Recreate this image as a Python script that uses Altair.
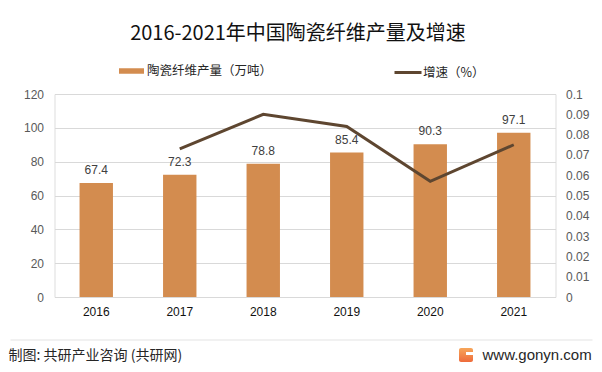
import altair as alt
import pandas as pd

years = ["2016", "2017", "2018", "2019", "2020", "2021"]
output = [67.4, 72.3, 78.8, 85.4, 90.3, 97.1]
growth_years = ["2017", "2018", "2019", "2020", "2021"]
growth = [0.073, 0.090, 0.084, 0.057, 0.075]

bar_name = "陶瓷纤维产量（万吨）"
line_name = "增速（%）"
title_text = "2016-2021年中国陶瓷纤维产量及增速"
footer_left = "制图: 共研产业咨询 (共研网)"
footer_right = "www.gonyn.com"
left_ticks = [0, 20, 40, 60, 80, 100, 120]
right_ticks = [0, 0.01, 0.02, 0.03, 0.04, 0.05, 0.06, 0.07, 0.08, 0.09, 0.1]

BAR_COLOR = "#D38C4F"
LINE_COLOR = "#5E4630"
CJK = "Noto Sans CJK SC"

bar_df = pd.DataFrame({"year": years, "value": output, "series": bar_name})
line_df = pd.DataFrame({"year": growth_years, "rate": growth, "series": line_name})
one = pd.DataFrame({"k": [0]})

left_axis = alt.Axis(values=left_ticks, ticks=False, domain=False, labelPadding=11,
                     labelFontSize=12, labelColor="#595959", labelFont="Liberation Sans",
                     labelOverlap=False, grid=True, gridColor="#D9D9D9")

x_enc = alt.X(
    "year:O",
    title=None,
    scale=alt.Scale(paddingInner=0.6, paddingOuter=0.3),
    axis=alt.Axis(labelAngle=0, ticks=False, labelPadding=9, labelFontSize=12,
                  labelColor="#111111", labelFont="Liberation Sans",
                  domainColor="#D9D9D9", grid=False),
)

bars = alt.Chart(bar_df).mark_bar(color=BAR_COLOR).encode(
    x=x_enc,
    y=alt.Y("value:Q", title=None,
            scale=alt.Scale(domain=[0, 120], nice=False), axis=left_axis),
    fill=alt.Fill("series:N", title=None,
                  scale=alt.Scale(domain=[bar_name], range=[BAR_COLOR]),
                  legend=alt.Legend(orient="none", legendX=64.5, legendY=-35.5,
                                    symbolType="M-1,-0.22H1V0.22H-1Z", symbolSize=625,
                                    symbolStrokeWidth=0, labelOffset=3,
                                    labelFontSize=12.5, labelFont=CJK, labelColor="#262626")),
)

labels = alt.Chart(bar_df).mark_text(dy=-13, fontSize=12, font="Liberation Sans",
                                     color="#404040", baseline="middle").encode(
    x=alt.X("year:O"),
    y=alt.Y("value:Q", title=None, scale=alt.Scale(domain=[0, 120], nice=False),
            axis=left_axis),
    text=alt.Text("value:Q", format=".1f"),
)

left = alt.layer(bars, labels)

line = alt.Chart(line_df).mark_line(strokeWidth=3, color=LINE_COLOR).encode(
    x=alt.X("year:O"),
    y=alt.Y("rate:Q", title=None,
            scale=alt.Scale(domain=[0, 0.1], nice=False),
            axis=alt.Axis(orient="right", values=right_ticks, format=".2~f", ticks=False,
                          domain=False, grid=False, labelPadding=10, labelFontSize=12,
                          labelOverlap=False,
                          labelColor="#595959", labelFont="Liberation Sans")),
    stroke=alt.Stroke("series:N", title=None,
                      scale=alt.Scale(domain=[line_name], range=[LINE_COLOR]),
                      legend=alt.Legend(orient="none", legendX=338.5, legendY=-36.5,
                                        symbolType="stroke", symbolSize=729,
                                        symbolStrokeWidth=3, labelOffset=0,
                                        labelFontSize=12.5, labelFont=CJK,
                                        labelColor="#262626")),
)

sep = alt.Chart(one).mark_rule(color="#E3E3E3", strokeWidth=1).encode(
    x=alt.value(-44), x2=alt.value(538), y=alt.value(246))

foot_l = alt.Chart(one).mark_text(align="left", baseline="middle", fontSize=14,
                                  font=CJK, color="#262626").encode(
    x=alt.value(-46), y=alt.value(262), text=alt.value(footer_left))

foot_r = alt.Chart(one).mark_text(align="left", baseline="middle", fontSize=15,
                                  font="Liberation Sans", color="#262626").encode(
    x=alt.value(428), y=alt.value(261), text=alt.value(footer_right))

logo = alt.Chart(one).mark_rect(cornerRadius=2, color=alt.Gradient(
    gradient="linear", x1=0, x2=0, y1=0, y2=1,
    stops=[alt.GradientStop(color="#F7A65A", offset=0),
           alt.GradientStop(color="#EE6B3B", offset=1)])).encode(
    x=alt.value(404.5), x2=alt.value(418.5), y=alt.value(254), y2=alt.value(268))

logo_cut = alt.Chart(one).mark_rect(color="white").encode(
    x=alt.value(411.5), x2=alt.value(419), y=alt.value(258), y2=alt.value(261))

chart = alt.layer(left, line, sep, foot_l, foot_r, logo, logo_cut).resolve_scale(
    y="independent"
).properties(
    width=501,
    height=203,
    title=alt.TitleParams(title_text, anchor="middle", fontSize=20, font=CJK,
                          fontWeight="normal", color="#111111", offset=14, dx=-7),
    autosize=alt.AutoSizeParams(type="none"),
    padding={"left": 46.5, "top": 86, "right": 38.5, "bottom": 67},
).configure_view(stroke=None).configure(background="white")

chart.save("out.html", embed_options={"renderer": "svg", "actions": False})
